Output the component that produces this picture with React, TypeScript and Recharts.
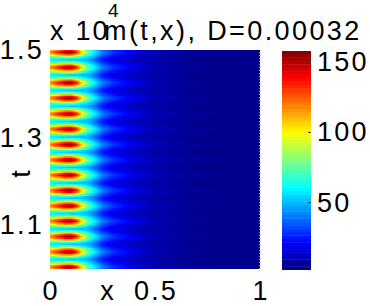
import React from "react";
import { ReferenceArea, ReferenceLine, Scatter, ScatterChart, XAxis, YAxis } from "recharts";

// times (t) of the hot spots, read top to bottom
const peakTimes = [
  1.495, 1.46, 1.425, 1.39, 1.354, 1.319, 1.284, 1.249, 1.214, 1.179, 1.144,
  1.109, 1.074, 1.039, 1.004,
];

// x positions where the profiles below are read
const xStops = [
  0, 0.025, 0.05, 0.075, 0.1, 0.125, 0.15, 0.175, 0.2, 0.25, 0.3, 0.4, 0.5, 0.7,
  1.0,
];

// m(t,x) along x, one row per phase step away from a hot spot (0 = on it, 5 = half way)
const profile0 = [118, 130, 140, 152, 155, 138, 108, 85, 66, 42, 30, 18, 10, 5, 4];
const profile1 = [110, 120, 128, 138, 140, 125, 98, 78, 62, 39, 28, 17, 10, 5, 4];
const profile2 = [95, 102, 108, 115, 115, 104, 85, 70, 57, 35, 25, 15, 9, 5, 4];
const profile3 = [78, 82, 85, 88, 90, 82, 70, 60, 51, 31, 22, 13, 9, 4, 4];
const profile4 = [65, 65, 65, 66, 65, 63, 57, 52, 46, 27, 19, 12, 8, 4, 4];
const profile5 = [60, 57, 55, 55, 52, 51, 49, 48, 44, 25, 17, 11, 8, 4, 4];
const profiles = [profile0, profile1, profile2, profile3, profile4, profile5];

const xTicks = [0, 0.5, 1];
const tTicks = [1.1, 1.3, 1.5];
const cTicks = [50, 100, 150];
const cMin = 2;
const cMax = 158;

const FONT = "'Liberation Sans', Arial, sans-serif";
const FS = 27;
const LS = 2.2;

const clamp = (v: number) => Math.max(0, Math.min(1, v));
const jet = (val: number) => {
  const v = clamp((val - cMin) / (cMax - cMin));
  const r = clamp(1.5 - Math.abs(4 * v - 3));
  const g = clamp(1.5 - Math.abs(4 * v - 2));
  const b = clamp(1.5 - Math.abs(4 * v - 1));
  return `rgb(${Math.round(r * 255)},${Math.round(g * 255)},${Math.round(b * 255)})`;
};

// gradient stops for one profile (sub-steps so the colour ramp follows jet)
const gradientStops = (vals: number[]) => {
  const stops: Array<{ offset: number; color: string }> = [];
  for (let i = 0; i < xStops.length - 1; i++) {
    for (let s = 0; s < 4; s++) {
      const f = s / 4;
      stops.push({
        offset: xStops[i] + (xStops[i + 1] - xStops[i]) * f,
        color: jet(vals[i] + (vals[i + 1] - vals[i]) * f),
      });
    }
  }
  stops.push({ offset: 1, color: jet(vals[vals.length - 1]) });
  return stops;
};

const period =
  (peakTimes[0] - peakTimes[peakTimes.length - 1]) / (peakTimes.length - 1);

// one band per phase step; drawn top to bottom, each reaching a bit lower so no seams show
const rows: Array<{ t1: number; t2: number; idx: number; c: number }> = [];
peakTimes.forEach((tp) => {
  for (let k = -4; k <= 5; k++) {
    const c = tp + (k / 10) * period;
    const half = period / 20;
    rows.push({ c, t1: c - half - period / 10, t2: c + half, idx: Math.abs(k) });
  }
});
rows.sort((a, b) => b.c - a.c);

const levels = Array.from({ length: 64 }, (_, i) => {
  const step = (cMax - cMin) / 64;
  return { y1: cMin + i * step, y2: cMin + (i + 1) * step, mid: cMin + (i + 0.5) * step };
});

const textStyle = { fontFamily: FONT, fontSize: FS, letterSpacing: LS, fill: "#000" };

const YTick = (props: any) => (
  <text x={props.x - 6} y={props.y} textAnchor="end" dominantBaseline="central" style={textStyle}>
    {String(props.payload.value)}
  </text>
);

const XTick = (props: any) => (
  <text x={props.x + 1} y={props.y + 22} textAnchor="middle" dominantBaseline="central" style={textStyle}>
    {String(props.payload.value)}
  </text>
);

const CTick = (props: any) => (
  <g>
    <line x1={props.x - 3} x2={props.x} y1={props.y} y2={props.y} stroke="#333" />
    <text x={props.x + 6} y={props.y} textAnchor="start" dominantBaseline="central" style={textStyle}>
      {String(props.payload.value)}
    </text>
  </g>
);

export default function App() {
  return (
    <div style={{ position: "absolute", left: 0, top: 0, width: 370, height: 306, background: "#fff" }}>
      <svg width={0} height={0} style={{ position: "absolute" }}>
        <defs>
          {profiles.map((p, i) => (
            <linearGradient key={i} id={`row${i}`} x1="0" y1="0" x2="1" y2="0">
              {gradientStops(p).map((s, j) => (
                <stop key={j} offset={s.offset} stopColor={s.color} />
              ))}
            </linearGradient>
          ))}
        </defs>
      </svg>

      <div style={{ position: "absolute", left: 0, top: 0 }}>
        <ScatterChart id="heat" width={370} height={306} margin={{ top: 50, right: 110, bottom: 0, left: 0 }}>
          <XAxis
            type="number"
            dataKey="x"
            domain={[0, 1]}
            ticks={xTicks}
            height={37}
            axisLine={false}
            tickLine={false}
            tickSize={0}
            tickMargin={0}
            tick={XTick}
            allowDataOverflow
            label={({ viewBox }: any) => (
              <text x={viewBox.x + 58} y={viewBox.y + 22} textAnchor="middle" dominantBaseline="central" style={textStyle}>
                x
              </text>
            )}
          />
          <YAxis
            type="number"
            dataKey="t"
            domain={[1, 1.5]}
            ticks={tTicks}
            width={50}
            axisLine={false}
            tickLine={false}
            tickSize={0}
            tickMargin={0}
            tick={YTick}
            allowDataOverflow
            label={({ viewBox }: any) => (
              <text
                x={21}
                y={viewBox.y + 123}
                textAnchor="middle"
                dominantBaseline="central"
                transform={`rotate(-90 21 ${viewBox.y + 123})`}
                style={textStyle}
              >
                t
              </text>
            )}
          />
          {rows.map((r, i) => (
            <ReferenceArea
              key={i}
              x1={0}
              x2={1}
              y1={r.t1}
              y2={r.t2}
              fill={`url(#row${r.idx})`}
              fillOpacity={1}
              stroke="none"
              ifOverflow="hidden"
            />
          ))}
          <ReferenceLine x={1} stroke="#c8c8c8" strokeWidth={1.5} strokeDasharray="1 2" />
          <Scatter data={[]} isAnimationActive={false} />
        </ScatterChart>
      </div>

      <div style={{ position: "absolute", left: 0, top: 0 }}>
        <ScatterChart id="cbar" width={370} height={306} margin={{ top: 51, right: 0, bottom: 36, left: 282 }}>
          <XAxis
            type="number"
            dataKey="x"
            domain={[0, 1]}
            height={0}
            tick={false}
            axisLine={false}
            tickLine={false}
            allowDataOverflow
          />
          <YAxis
            type="number"
            dataKey="c"
            orientation="right"
            domain={[cMin, cMax]}
            ticks={cTicks}
            width={59}
            axisLine={false}
            tickLine={false}
            tickSize={0}
            tickMargin={0}
            tick={CTick}
            allowDataOverflow
          />
          {levels.map((l, i) => (
            <ReferenceArea
              key={i}
              x1={0}
              x2={1}
              y1={l.y1}
              y2={i === levels.length - 1 ? l.y2 : l.y2 + 0.3}
              fill={jet(l.mid)}
              fillOpacity={1}
              stroke="none"
              ifOverflow="hidden"
            />
          ))}
          <Scatter data={[]} isAnimationActive={false} />
        </ScatterChart>
      </div>

      <svg width={370} height={60} style={{ position: "absolute", left: 0, top: 0 }}>
        <text x={50} y={40} style={textStyle}>
          x 10
        </text>
        <text x={108} y={17} style={{ ...textStyle, fontSize: 19, letterSpacing: 0 }}>
          4
        </text>
        <text x={104} y={40} style={{ ...textStyle, letterSpacing: 2.4 }}>
          m(t,x), D=0.00032
        </text>
      </svg>
    </div>
  );
}
